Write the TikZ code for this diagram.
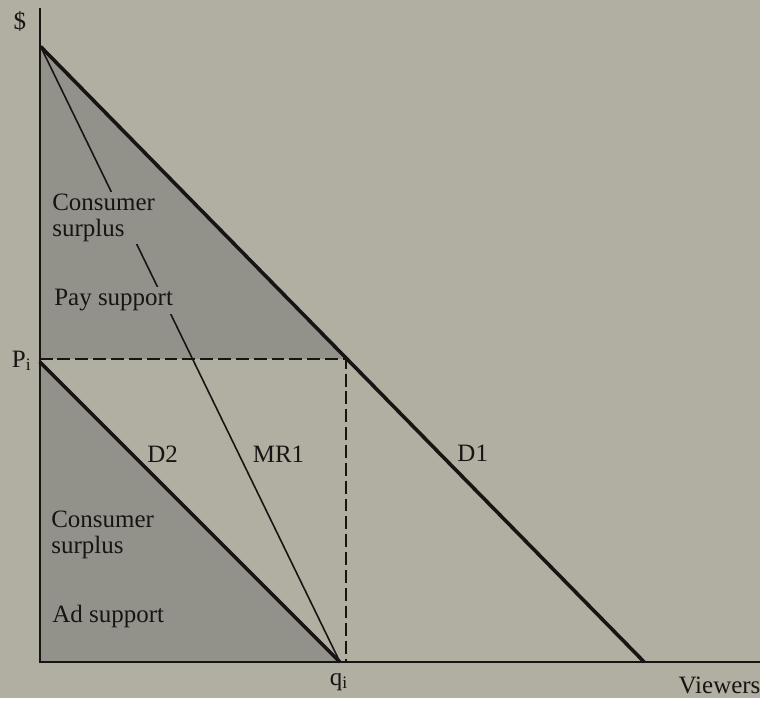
\documentclass[tikz,border=0pt]{standalone}
\usepackage{fontspec}
\setmainfont{Liberation Serif}
\definecolor{bgcol}{RGB}{176,175,161}
\definecolor{shadecol}{RGB}{146,146,138}
\definecolor{inkcol}{RGB}{24,20,20}
\begin{document}
\begin{tikzpicture}[x=0.5pt,y=-0.5pt,font=\fontsize{12.6}{13}\selectfont,
        every node/.style={text=inkcol},
        axis/.style={draw=inkcol,line width=1pt},
        curve/.style={draw=inkcol,line width=1.8pt},
        guide/.style={draw=inkcol,line width=0.9pt,dash pattern=on 6.5pt off 2.5pt},
        area/.style={fill=shadecol,inner sep=1.2pt,align=left,anchor=west}]
        \fill[bgcol] (0,0) rectangle (767,704);
        \coordinate (top) at (41,47);
        \coordinate (d1end) at (650,668);
        \coordinate (corner) at (349,362);
        \coordinate (pi) at (40,362);
        \coordinate (d2top) at (40,365);
        \coordinate (q) at (343,668);
        \coordinate (ytop) at (40,8);
        \coordinate (origin) at (40,668);
        \coordinate (xend) at (767,668);
        \fill[shadecol] (top) -- (corner) -- (pi) -- cycle;
        \fill[shadecol] (d2top) -- (q) -- (origin) -- cycle;
        \draw[draw=inkcol,line width=0.8pt] (top) -- (q);
        \node[area] (cs1) at (50,220) {Consumer\\surplus};
        \node[area] (pay) at (52,303) {Pay support};
        \node[area] (cs2) at (49,540) {Consumer\\surplus};
        \node[area] (ad) at (50,622) {Ad support};
        \draw[guide] (pi) -- (corner) -- (corner |- origin);
        \draw[axis] (ytop) -- (origin) -- (xend);
        \draw[curve] (top) -- (d1end);
        \draw[curve] (d2top) -- (q);
        \node (dollar) at (20,22) {\$};
        \node (pilab) at (22,364) {P\textsubscript{i}};
        \node (qlab) at (342,688) {q\textsubscript{i}};
        \node (viewers) at (726,692) {Viewers};
        \node (d2lab) at (164,458) {D2};
        \node (mr1lab) at (281,458) {MR1};
        \node (d1lab) at (477,457) {D1};
    \end{tikzpicture}
\end{document}
